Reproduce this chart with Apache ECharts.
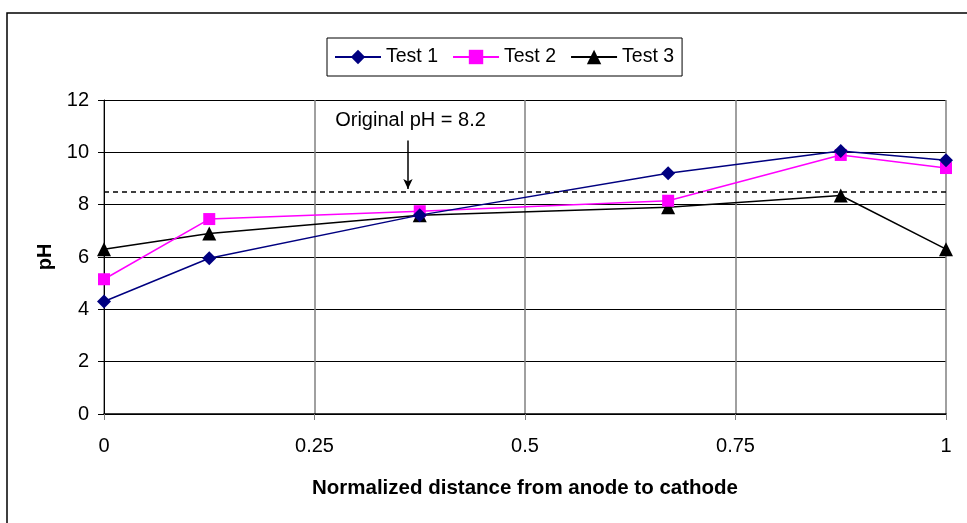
<!DOCTYPE html>
<html>
<head>
<meta charset="utf-8">
<script src="https://cdn.jsdelivr.net/npm/echarts@6/dist/echarts.min.js"></script>
<style>
  html, body { margin: 0; padding: 0; background: #fff; }
  #main { width: 967px; height: 523px; }
</style>
</head>
<body>
<div id="main"></div>
<script>
var chart = echarts.init(document.getElementById('main'));

// normalized distance from anode to cathode
var distance = [0, 0.125, 0.375, 0.67, 0.875, 1];
var test1 = [4.3, 5.95, 7.6, 9.2, 10.05, 9.7];
var test2 = [5.15, 7.45, 7.75, 8.15, 9.9, 9.4];
var test3 = [6.3, 6.9, 7.6, 7.9, 8.35, 6.3];
var originalLine = 8.5;
var arrowX = 0.361;
var arrowTop = 10.45;
var noteText = 'Original pH = 8.2';

function pairs(ys) {
  return distance.map(function (x, i) { return [x, ys[i]]; });
}

var font = 'Liberation Sans, Arial, sans-serif';

var option = {
  animation: false,
  textStyle: { fontFamily: font },
  graphic: [{
    type: 'rect',
    shape: { x: 7, y: 13, width: 970, height: 520 },
    style: { fill: 'none', stroke: '#000', lineWidth: 1.5 },
    silent: true
  }],
  legend: {
    left: 327,
    top: 38,
    padding: [9, 8, 9, 7],
    borderColor: '#000',
    borderWidth: 1,
    itemGap: 14,
    itemWidth: 46,
    itemHeight: 18,
    textStyle: { fontSize: 19.5, color: '#000', fontFamily: font },
    data: ['Test 1', 'Test 2', 'Test 3']
  },
  grid: { left: 104, right: 21, top: 100, bottom: 109, containLabel: false },
  xAxis: {
    type: 'value',
    min: 0,
    max: 1,
    interval: 0.25,
    name: 'Normalized distance from anode to cathode',
    nameLocation: 'middle',
    nameGap: 64,
    nameTextStyle: { fontSize: 20.5, fontWeight: 'bold', color: '#000', fontFamily: font },
    axisLine: { lineStyle: { color: '#000', width: 1.5 } },
    axisTick: { show: true, length: 6, lineStyle: { color: '#808080' } },
    axisLabel: { fontSize: 20, color: '#000', margin: 22, fontFamily: font },
    splitLine: { show: true, lineStyle: { color: '#808080', width: 1.5 } }
  },
  yAxis: {
    type: 'value',
    min: 0,
    max: 12,
    interval: 2,
    name: 'pH',
    nameLocation: 'middle',
    nameGap: 48,
    nameTextStyle: { fontSize: 20, fontWeight: 'bold', color: '#000', fontFamily: font },
    axisLine: { show: true, lineStyle: { color: '#000', width: 1 } },
    axisTick: { show: true, length: 6, lineStyle: { color: '#000' } },
    axisLabel: { fontSize: 20, color: '#000', margin: 15, fontFamily: font },
    splitLine: { show: true, lineStyle: { color: '#000', width: 1 } }
  },
  series: [{
    name: 'Test 1',
    type: 'line',
    data: pairs(test1),
    symbol: 'diamond',
    symbolSize: 14,
    color: '#000080',
    lineStyle: { color: '#000080', width: 1.5 },
    z: 4,
    markLine: {
      silent: true,
      symbol: 'none',
      animation: false,
      label: { show: false },
      lineStyle: { color: '#000', type: [5, 4], width: 1.5 },
      data: [[{ coord: [0, originalLine] }, { coord: [1, originalLine] }]]
    }
  }, {
    name: 'Test 2',
    type: 'line',
    data: pairs(test2),
    symbol: 'rect',
    symbolSize: 12,
    color: '#ff00ff',
    lineStyle: { color: '#ff00ff', width: 1.5 },
    z: 3,
    markLine: {
      silent: true,
      animation: false,
      symbol: ['none', 'arrow'],
      symbolSize: [7, 10],
      label: { show: false },
      lineStyle: { color: '#000', type: 'solid', width: 1.5 },
      data: [[{ coord: [arrowX, arrowTop] }, { coord: [arrowX, originalLine + 0.1] }]]
    },
    markPoint: {
      silent: true,
      animation: false,
      symbol: 'circle',
      symbolSize: 0,
      label: {
        show: true,
        position: 'inside',
        color: '#000',
        fontSize: 20,
        fontFamily: font,
        formatter: noteText
      },
      data: [{ coord: [0.364, 11.2] }]
    }
  }, {
    name: 'Test 3',
    type: 'line',
    data: pairs(test3),
    symbol: 'triangle',
    symbolSize: 14,
    color: '#000',
    lineStyle: { color: '#000', width: 1.5 },
    z: 2
  }]
};

chart.setOption(option);
</script>
</body>
</html>
